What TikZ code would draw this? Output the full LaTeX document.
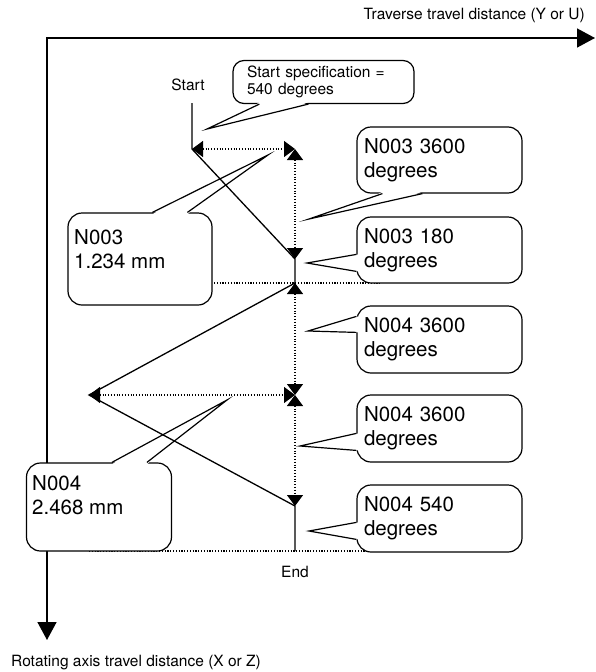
\documentclass[tikz,border=0pt]{standalone}
\usepackage{fontspec}
\setmainfont{TeX Gyre Heros}
\usetikzlibrary{arrows.meta,calc}
\newcommand\bigfnt{\fontsize{20.5}{24}\selectfont}
\newcommand\smallfnt{\fontsize{15.5}{16.7}\selectfont}
\newcommand\calltail[4]{%
  \fill[white] ($(#1)!0.12!(#2)$) -- ($(#3)!0.12!(#2)$) -- ($(#3)+#4$) -- ($(#1)+#4$) -- cycle;
  \draw[tailline] (#1) -- (#2) -- (#3);}
\begin{document}
\begin{tikzpicture}[x=1pt,y=-1pt,
  >={Triangle[length=11pt,width=16pt]},
  axisline/.style={line width=1.5pt},
  pathline/.style={line width=1.3pt, line join=miter},
  dotline/.style={line width=1.1pt, dash pattern=on 1.1pt off 1.7pt},
  callbox/.style={draw, line width=1.2pt, fill=white, rounded corners=14pt, inner ysep=0pt},
  rbox/.style={callbox, minimum width=165pt, minimum height=66pt, text width=151pt, inner xsep=7pt, align=left, font=\bigfnt},
  bigtext/.style={font=\bigfnt, align=left, inner sep=0pt},
  smalltext/.style={font=\smallfnt, inner sep=0pt},
  tailline/.style={line width=1.2pt, line join=miter, miter limit=40}]
\useasboundingbox (0,0) rectangle (595,672);

% axes
\coordinate (o) at (47,38);
\coordinate (xend) at (595,38);
\coordinate (yend) at (47,640);
\draw[axisline, {Triangle[length=18pt,width=19pt]}-{Triangle[length=18pt,width=19pt]}] (xend) -- (o) -- (yend);
\node[smalltext, anchor=east] (xlab) at (585,15) {Traverse travel distance (Y or U)};
\node[smalltext, anchor=west] (ylab) at (11,663) {Rotating axis travel distance (X or Z)};

% path points
\coordinate (s0) at (192,103);
\coordinate (p1) at (192,149);
\coordinate (p1r) at (295,149);
\coordinate (p2) at (295,259);
\coordinate (p3) at (295,283);
\coordinate (p4) at (89,395);
\coordinate (p4r) at (295,395);
\coordinate (p5) at (295,506);
\coordinate (p6) at (295,551);
\coordinate (h1a) at (200,283);
\coordinate (h1b) at (380,283);
\coordinate (h2a) at (89,551);
\coordinate (h2b) at (399,551);

% dotted components
\draw[dotline] (h1a) -- (h1b);
\draw[dotline] (h2a) -- (h2b);
\draw[dotline, <->] (p1) -- (p1r);
\draw[dotline, <->] (p1r) -- (p2);
\draw[dotline, <->] (p3) -- (p4r);
\draw[dotline, <->] (p4) -- (p4r);
\draw[dotline, <->] (p4r) -- (p5);

% solid tool path
\draw[pathline] (s0) -- (p1) -- (p2) -- (p3) -- (p4) -- (p5) -- (p6);

\node[smalltext] (start) at (188,85) {Start};
\node[smalltext] (end) at (295,572) {End};

% callout boxes
\node[callbox, rounded corners=11pt, minimum width=181pt, minimum height=43pt, text width=153pt, inner xsep=14pt, align=left, font=\smallfnt] (bs) at (323.5,82) {Start specification =\\540 degrees};
\node[rbox] (rb1) at (439.5,160) {N003 3600\\degrees};
\node[rbox] (rb2) at (439.5,250) {N003 180\\degrees};
\node[rbox, minimum height=67pt] (rb3) at (439.5,339.5) {N004 3600\\degrees};
\node[rbox, minimum height=67pt] (rb4) at (439.5,428.5) {N004 3600\\degrees};
\node[rbox, minimum height=67pt] (rb5) at (439.5,518.5) {N004 540\\degrees};
\node[callbox, minimum width=144pt, minimum height=92pt] (b3) at (140,259) {};
\node[bigtext, anchor=north west] (t3) at (74,229.5) {N003\\1.234 mm};
\node[callbox, minimum width=145pt, minimum height=88pt] (b4) at (99,507) {};
\node[bigtext, anchor=north west] (t4) at (32,475.5) {N004\\2.468 mm};

% tails
\coordinate (bsa) at ($(bs.south west)+(27,0)$);
\coordinate (bsb) at ($(bs.south west)+(76,0)$);
\coordinate (bst) at (207,129);
\calltail{bsa}{bst}{bsb}{(0,-2)}

\coordinate (r1a) at ($(rb1.south west)+(26,0)$);
\coordinate (r1b) at ($(rb1.south west)+(66,0)$);
\coordinate (r1t) at (309,219);
\calltail{r1a}{r1t}{r1b}{(0,-2)}

\coordinate (r2a) at ($(rb2.north west)+(0,38)$);
\coordinate (r2b) at ($(rb2.north west)+(0,55)$);
\coordinate (r2t) at (307,263);
\calltail{r2a}{r2t}{r2b}{(2,0)}

\coordinate (r3a) at ($(rb3.north west)+(0,11)$);
\coordinate (r3b) at ($(rb3.north west)+(0,27)$);
\coordinate (r3t) at (308,331);
\calltail{r3a}{r3t}{r3b}{(2,0)}

\coordinate (r4a) at ($(rb4.north west)+(0,39)$);
\coordinate (r4b) at ($(rb4.north west)+(0,56)$);
\coordinate (r4t) at (300,446);
\calltail{r4a}{r4t}{r4b}{(2,0)}

\coordinate (r5a) at ($(rb5.north west)+(0,38)$);
\coordinate (r5b) at ($(rb5.north west)+(0,55)$);
\coordinate (r5t) at (309,531);
\calltail{r5a}{r5t}{r5b}{(2,0)}

\coordinate (l3a) at ($(b3.north west)+(85,0)$);
\coordinate (l3b) at ($(b3.north west)+(120,0)$);
\coordinate (l3t) at (268,155);
\calltail{l3a}{l3t}{l3b}{(0,2)}

\coordinate (l4a) at ($(b4.north west)+(86,0)$);
\coordinate (l4b) at ($(b4.north west)+(121,0)$);
\coordinate (l4t) at (227,400);
\calltail{l4a}{l4t}{l4b}{(0,2)}
\end{tikzpicture}
\end{document}
